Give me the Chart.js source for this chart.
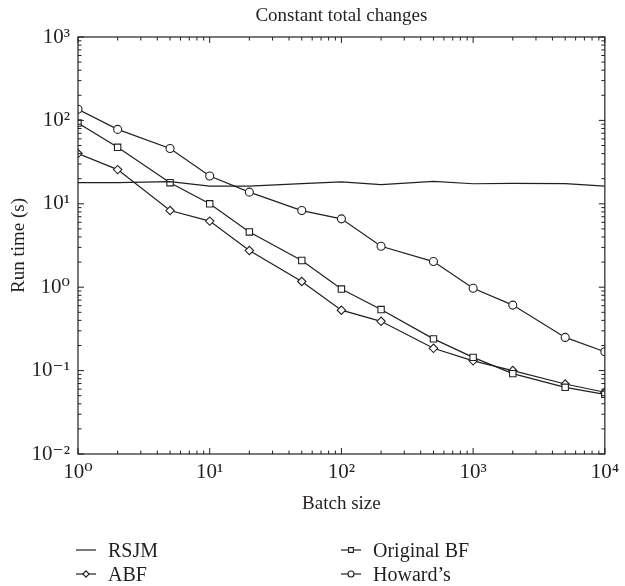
<!DOCTYPE html>
<html>
<head>
<meta charset="utf-8">
<script src="https://cdn.jsdelivr.net/npm/chart.js@4/dist/chart.umd.min.js"></script>
<style>
    html, body { margin: 0; padding: 0; background: #fff; }
    #wrap { position: relative; width: 625px; height: 586px; }
</style>
</head>
<body>
<div id="wrap"><canvas id="run_time_chart"></canvas></div>
<script>
// batch sizes (x axis)
var arrBatch = [1, 2, 5, 10, 20, 50, 100, 200, 500, 1000, 2000, 5000, 10000];

// run time in seconds
var arrRSJM = [17.9, 17.9, 18.4, 16.3, 16.3, 17.5, 18.3, 17.0, 18.6, 17.4, 17.6, 17.5, 16.3];
var arrOriginalBF = [93, 47.6, 17.9, 10, 4.6, 2.09, 0.95, 0.54, 0.24, 0.144, 0.092, 0.063, 0.052];
var arrABF = [40, 25.7, 8.3, 6.2, 2.75, 1.17, 0.53, 0.39, 0.185, 0.131, 0.1, 0.069, 0.055];
var arrHowards = [136, 78, 46, 21.5, 13.8, 8.3, 6.6, 3.1, 2.03, 0.97, 0.61, 0.25, 0.168];

var arrXTicks = [1, 10, 100, 1000, 10000];
var arrYTicks = [0.01, 0.1, 1, 10, 100, 1000];

var strTitle = 'Constant total changes';
var strFont = '"Liberation Serif", "DejaVu Serif", serif';
var strInk = '#231f20';

const toPoints = (arrY) => arrBatch.map((x, i) => ({ x: x, y: arrY[i] }));

const supDigits = { '0': '⁰', '1': '¹', '2': '²', '3': '³', '4': '⁴', '5': '⁵', '6': '⁶', '7': '⁷', '8': '⁸', '9': '⁹', '-': '⁻' };
const powLabel = (value) => {
    const exp = String(Math.round(Math.log10(value)));
    return '10' + exp.split('').map(c => supDigits[c]).join('');
};

function makeSeries(strLabel, arrY, strStyle, intRadius) {
    return {
        label: strLabel,
        data: toPoints(arrY),
        borderColor: strInk,
        borderWidth: 1.2,
        pointStyle: strStyle,
        pointRadius: intRadius,
        pointHoverRadius: intRadius,
        pointBorderColor: strInk,
        pointBackgroundColor: '#fff',
        pointBorderWidth: 1.1,
        tension: 0,
        fill: false
    };
}

// box and inward log ticks on all four sides
var frameTicks = {
    id: 'frameTicks',
    afterDatasetsDraw(chart) {
        const { ctx, chartArea: a } = chart;
        const xs = chart.scales.x, ys = chart.scales.y;
        ctx.save();
        ctx.strokeStyle = strInk;
        ctx.lineWidth = 1.2;
        ctx.strokeRect(a.left, a.top, a.right - a.left, a.bottom - a.top);
        ctx.lineWidth = 1;

        const logTicks = (min, max) => {
            const arr = [];
            for (let d = Math.floor(Math.log10(min)); d <= Math.ceil(Math.log10(max)); d++) {
                for (let k = 1; k <= 9; k++) {
                    const v = k * Math.pow(10, d);
                    if (v >= min * 0.999 && v <= max * 1.001) arr.push({ v: v, major: k === 1 });
                }
            }
            return arr;
        };

        ctx.beginPath();
        logTicks(xs.min, xs.max).forEach(t => {
            const px = xs.getPixelForValue(t.v);
            const len = t.major ? 6 : 3.5;
            ctx.moveTo(px, a.bottom); ctx.lineTo(px, a.bottom - len);
            ctx.moveTo(px, a.top); ctx.lineTo(px, a.top + len);
        });
        logTicks(ys.min, ys.max).forEach(t => {
            const py = ys.getPixelForValue(t.v);
            const len = t.major ? 6 : 3.5;
            ctx.moveTo(a.left, py); ctx.lineTo(a.left + len, py);
            ctx.moveTo(a.right, py); ctx.lineTo(a.right - len, py);
        });
        ctx.stroke();
        ctx.restore();
    }
};

// title centred over the plot area
var plotTitle = {
    id: 'plotTitle',
    afterDraw(chart) {
        const { ctx, chartArea: a } = chart;
        ctx.save();
        ctx.fillStyle = strInk;
        ctx.font = '19px ' + strFont;
        ctx.textAlign = 'center';
        ctx.textBaseline = 'alphabetic';
        ctx.fillText(strTitle, (a.left + a.right) / 2, 21);
        ctx.restore();
    }
};

// two column legend under the axis
var columnLegend = {
    id: 'columnLegend',
    afterDraw(chart) {
        const ctx = chart.ctx;
        // order: left column RSJM, ABF; right column Original BF, Howard's
        const arrSlots = [
            { idx: 0, x: 76, y: 550 },
            { idx: 2, x: 76, y: 574 },
            { idx: 1, x: 341, y: 550 },
            { idx: 3, x: 341, y: 574 }
        ];
        ctx.save();
        arrSlots.forEach(function (objSlot) {
            const ds = chart.data.datasets[objSlot.idx];
            ctx.strokeStyle = strInk;
            ctx.lineWidth = 1.2;
            ctx.beginPath();
            ctx.moveTo(objSlot.x, objSlot.y);
            ctx.lineTo(objSlot.x + 20, objSlot.y);
            ctx.stroke();
            if (ds.pointRadius > 0) {
                ctx.fillStyle = '#fff';
                ctx.lineWidth = 1.1;
                Chart.helpers.drawPoint(ctx, {
                    pointStyle: ds.pointStyle,
                    radius: ds.pointRadius * 0.75,
                    rotation: 0,
                    borderWidth: 1.1
                }, objSlot.x + 10, objSlot.y);
            }
            ctx.fillStyle = strInk;
            ctx.font = '20px ' + strFont;
            ctx.textAlign = 'left';
            ctx.textBaseline = 'alphabetic';
            ctx.fillText(ds.label, objSlot.x + 32, objSlot.y + 7);
        });
        ctx.restore();
    }
};

var ctx = document.getElementById('run_time_chart').getContext('2d');
var objChart = new Chart(ctx, {
    type: 'line',
    data: {
        datasets: [
            makeSeries('RSJM', arrRSJM, false, 0),
            makeSeries('Original BF', arrOriginalBF, 'rect', 4.5),
            makeSeries('ABF', arrABF, 'rectRot', 4.2),
            makeSeries('Howard\u2019s', arrHowards, 'circle', 4)
        ]
    },
    options: {
        animation: false,
        responsive: true,
        maintainAspectRatio: false,
        layout: {
            padding: { left: 0, top: 37, right: 20, bottom: 70 }
        },
        plugins: {
            legend: { display: false },
            title: { display: false },
            tooltip: { enabled: false }
        },
        scales: {
            x: {
                type: 'logarithmic',
                min: 1,
                max: 10000,
                grid: { display: false, drawTicks: false },
                border: { display: false },
                afterBuildTicks: function (scale) {
                    scale.ticks = arrXTicks.map(v => ({ value: v }));
                },
                afterFit: function (scale) {
                    scale.height = 62;
                },
                ticks: {
                    autoSkip: false,
                    maxRotation: 0,
                    padding: 6,
                    color: strInk,
                    font: { family: strFont, size: 21 },
                    callback: function (value) {
                        return powLabel(value);
                    }
                },
                title: {
                    display: true,
                    text: 'Batch size',
                    color: strInk,
                    font: { family: strFont, size: 19, lineHeight: 1.2 },
                    padding: { top: 0, bottom: 1 }
                }
            },
            y: {
                type: 'logarithmic',
                min: 0.01,
                max: 1000,
                grid: { display: false, drawTicks: false },
                border: { display: false },
                afterBuildTicks: function (scale) {
                    scale.ticks = arrYTicks.map(v => ({ value: v }));
                },
                afterFit: function (scale) {
                    scale.width = 78;
                },
                ticks: {
                    autoSkip: false,
                    padding: 8,
                    color: strInk,
                    font: { family: strFont, size: 21 },
                    callback: function (value) {
                        return powLabel(value);
                    }
                },
                title: {
                    display: true,
                    text: 'Run time (s)',
                    color: strInk,
                    font: { family: strFont, size: 19, lineHeight: 1.2 },
                    padding: { top: 8, bottom: 0 }
                }
            }
        }
    },
    plugins: [frameTicks, plotTitle, columnLegend]
});
</script>
</body>
</html>
